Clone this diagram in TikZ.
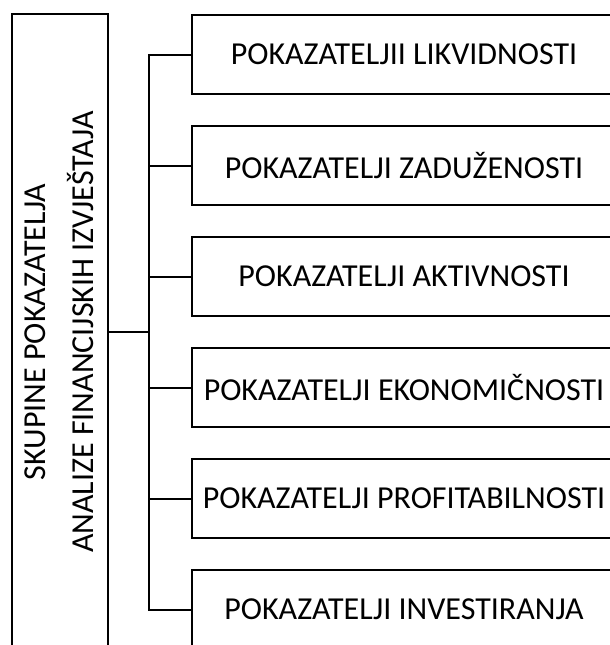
\documentclass[tikz,border=0pt]{standalone}
\usepackage{fontspec}
\setmainfont{Carlito}
\begin{document}
\begin{tikzpicture}[x=1pt,y=-1pt,
  line width=2.2pt,
  catbox/.style={draw, rectangle, minimum width=424pt, minimum height=79.3pt, inner sep=0pt,
    font=\fontsize{32pt}{38pt}\selectfont},
  mainbox/.style={draw, rectangle, minimum width=96pt, minimum height=636pt, inner sep=0pt},
  maintext/.style={rotate=90, align=center, inner sep=0pt, font=\fontsize{32pt}{48pt}\selectfont},
  conn/.style={draw, line width=2.2pt}]
\useasboundingbox (0,0) rectangle (610,645);
\node[mainbox] (main) at (59.7,332) {};
\node[maintext] (mtext) at (59.2,332) {SKUPINE POKAZATELJA\\ANALIZE FINANCIJSKIH IZVJEŠTAJA};
\node[catbox] (b1) at (404,54.6) {POKAZATELJII LIKVIDNOSTI};
\node[catbox] (b2) at (404,165.6) {POKAZATELJI ZADUŽENOSTI};
\node[catbox] (b3) at (404,276.6) {POKAZATELJI AKTIVNOSTI};
\node[catbox] (b4) at (404,387.6) {POKAZATELJI EKONOMIČNOSTI};
\node[catbox] (b5) at (404,498.6) {POKAZATELJI PROFITABILNOSTI};
\node[catbox] (b6) at (404,609.6) {POKAZATELJI INVESTIRANJA};
\coordinate (bus) at (149.3,0);
\draw[conn] (b1.west) -- (b1.west -| bus) -- (b6.west -| bus) -- (b6.west);
\draw[conn] (b2.west) -- (b2.west -| bus);
\draw[conn] (b3.west) -- (b3.west -| bus);
\draw[conn] (b4.west) -- (b4.west -| bus);
\draw[conn] (b5.west) -- (b5.west -| bus);
\draw[conn] (main.east) -- (main.east -| bus);
\end{tikzpicture}
\end{document}
